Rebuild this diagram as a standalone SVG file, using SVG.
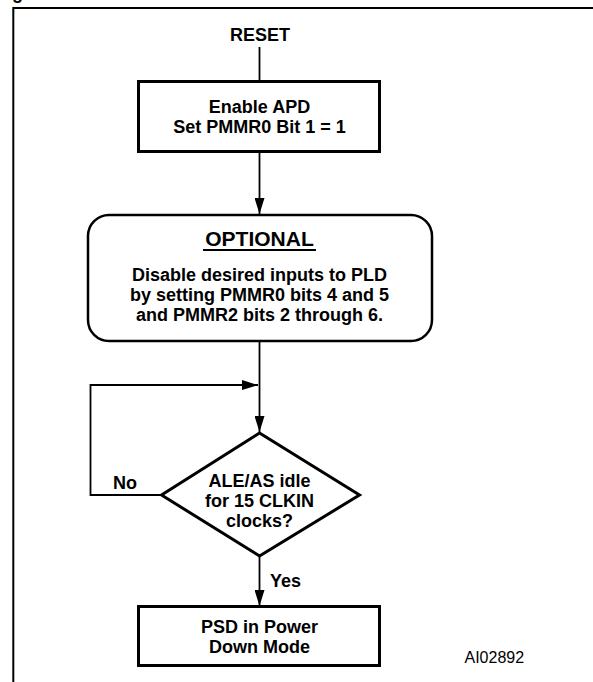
<svg xmlns="http://www.w3.org/2000/svg" width="593" height="682" viewBox="0 0 593 682">
  <style>
    .t { font-family: "Liberation Sans", Arial, sans-serif; font-weight: bold; font-size: 18px; fill: #000; text-anchor: middle; }
    .box { fill: #fff; stroke: #000; stroke-width: 3; }
    .rbox { fill: #fff; stroke: #000; stroke-width: 2.5; }
    .conn { fill: none; stroke: #000; stroke-width: 1.8; }
    .frame { fill: none; stroke: #000; stroke-width: 2; }
  </style>
  <defs>
    <marker id="arr" markerUnits="userSpaceOnUse" markerWidth="16" markerHeight="10" refX="16" refY="5" orient="auto">
      <path d="M0,0 L16,5 L0,10 z" fill="#000"/>
    </marker>
  </defs>
  <rect width="593" height="682" fill="#fff"/>
  <text class="t" x="12" y="-1" style="text-anchor:start">g</text>
  <path class="frame" d="M13.3,700 V8 H600"/>

  <g id="connectors">
    <path class="conn" d="M259.5,47 V81"/>
    <path class="conn" d="M259.5,152 V214" marker-end="url(#arr)"/>
    <path class="conn" d="M259.5,341 V432" marker-end="url(#arr)"/>
    <path class="conn" d="M161.5,495 H90.5 V385 H258" marker-end="url(#arr)"/>
    <path class="conn" d="M259.5,556 V606" marker-end="url(#arr)"/>
    <text class="t" x="125" y="489">No</text>
    <text class="t" x="270" y="587" style="text-anchor:start">Yes</text>
  </g>

  <g id="reset">
    <text class="t" x="260" y="41">RESET</text>
  </g>

  <g id="enable">
    <rect class="box" x="138.5" y="81.5" width="241" height="70"/>
    <text class="t" x="259.5" y="113">Enable APD</text>
    <text class="t" x="259.5" y="133">Set PMMR0 Bit 1 = 1</text>
  </g>

  <g id="optional">
    <rect class="rbox" x="88" y="215" width="344" height="126" rx="21" ry="21"/>
    <text class="t" x="259.5" y="246" style="font-size:21px">OPTIONAL</text>
    <line x1="203" y1="250" x2="316" y2="250" stroke="#000" stroke-width="2.2"/>
    <text class="t" x="259.5" y="280.5">Disable desired inputs to PLD</text>
    <text class="t" x="259.5" y="300.5">by setting PMMR0 bits 4 and 5</text>
    <text class="t" x="259.5" y="320.5">and PMMR2 bits 2 through 6.</text>
  </g>

  <g id="decision">
    <polygon class="box" points="259.5,433 359.5,495 259.5,556 161.5,495"/>
    <text class="t" x="259.5" y="487">ALE/AS idle</text>
    <text class="t" x="259.5" y="507">for 15 CLKIN</text>
    <text class="t" x="259.5" y="526.5">clocks?</text>
  </g>

  <g id="powerdown">
    <rect class="box" x="138.5" y="606.5" width="241" height="59"/>
    <text class="t" x="259.5" y="632.5">PSD in Power</text>
    <text class="t" x="259.5" y="652.5">Down Mode</text>
  </g>

  <g id="label">
    <text x="464.5" y="662.5" style="font-family:'Liberation Sans', Arial, sans-serif; font-size:16px; fill:#000">AI02892</text>
  </g>
</svg>
